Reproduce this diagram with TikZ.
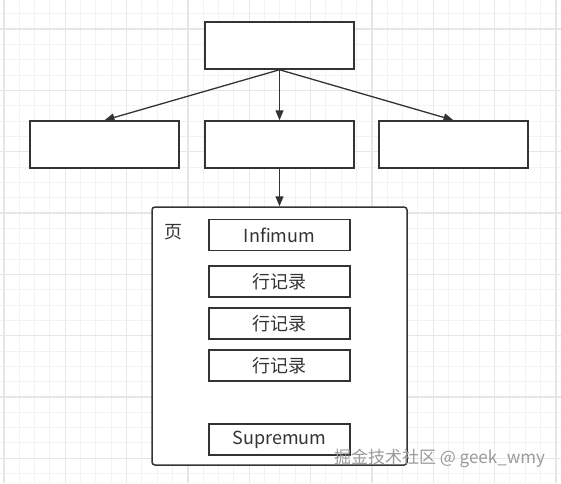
\documentclass[tikz,border=0pt]{standalone}
\usepackage{fontspec}
\setmainfont{Noto Sans CJK SC}
\usetikzlibrary{arrows.meta}
\definecolor{ink}{HTML}{333333}
\definecolor{gridminor}{HTML}{F2F2F2}
\definecolor{gridmajor}{HTML}{E6E6E6}
\definecolor{wmark}{HTML}{9A9A9A}
\tikzset{
  boxnode/.style={draw=ink, line width=1.5pt, fill=white, minimum width=149pt, minimum height=47pt, inner sep=0pt},
  recbox/.style={draw=ink, line width=1.5pt, fill=white, minimum width=141pt, minimum height=31pt, inner sep=0pt, text=ink, font=\fontsize{18}{18}\selectfont},
  pagebox/.style={draw=ink, line width=1.5pt, fill=white, rounded corners=3pt, minimum width=255pt, minimum height=258pt, inner sep=0pt},
  conn/.style={draw=ink, line width=1.3pt, -{Triangle[length=10pt,width=8pt]}},
  minorline/.style={gridminor, line width=1pt},
  majorline/.style={gridmajor, line width=1.3pt}
}
\begin{document}
\begin{tikzpicture}[x=1pt,y=-1pt]
\useasboundingbox (0,0) rectangle (561,483);
\fill[white] (0,0) rectangle (561,483);
% grid
\foreach \i in {0,...,37} {
  \draw[minorline] ({4+\i*15.33},0) -- ({4+\i*15.33},483);
}
\foreach \i in {0,...,32} {
  \draw[minorline] (0,{-1.6+\i*15.33}) -- (561,{-1.6+\i*15.33});
}
\foreach \i in {0,...,9} {
  \draw[majorline] ({4+\i*61.33},0) -- ({4+\i*61.33},483);
}
\foreach \i in {0,...,7} {
  \draw[majorline] (0,{29+\i*61.33}) -- (561,{29+\i*61.33});
}
% boxes
\node[boxnode] (top) at (279.5,45.5) {};
\node[boxnode] (left) at (104.5,144.5) {};
\node[boxnode] (mid) at (279.5,144.5) {};
\node[boxnode] (right) at (453.5,144.5) {};
\node[pagebox] (page) at (279.5,336) {};
\node[text=ink, font=\fontsize{18}{18}\selectfont] (pagelabel) at (173,232) {页};
\node[recbox] (inf) at (279.5,235) {Infimum};
\node[recbox] (r1) at (279.5,281.5) {行记录};
\node[recbox] (r2) at (279.5,323.5) {行记录};
\node[recbox] (r3) at (279.5,365.5) {行记录};
\node[recbox] (sup) at (279.5,439.5) {Supremum};
% connectors
\draw[conn] (top.south) -- (left.north);
\draw[conn] (top.south) -- (mid.north);
\draw[conn] (top.south) -- (right.north);
\draw[conn] (mid.south) -- (page.north);
% watermark
\node[text=wmark, font=\fontsize{17}{17}\selectfont, inner sep=0pt] (wm) at (439.5,458) {掘金技术社区 @ geek\_wmy};
\end{tikzpicture}
\end{document}
